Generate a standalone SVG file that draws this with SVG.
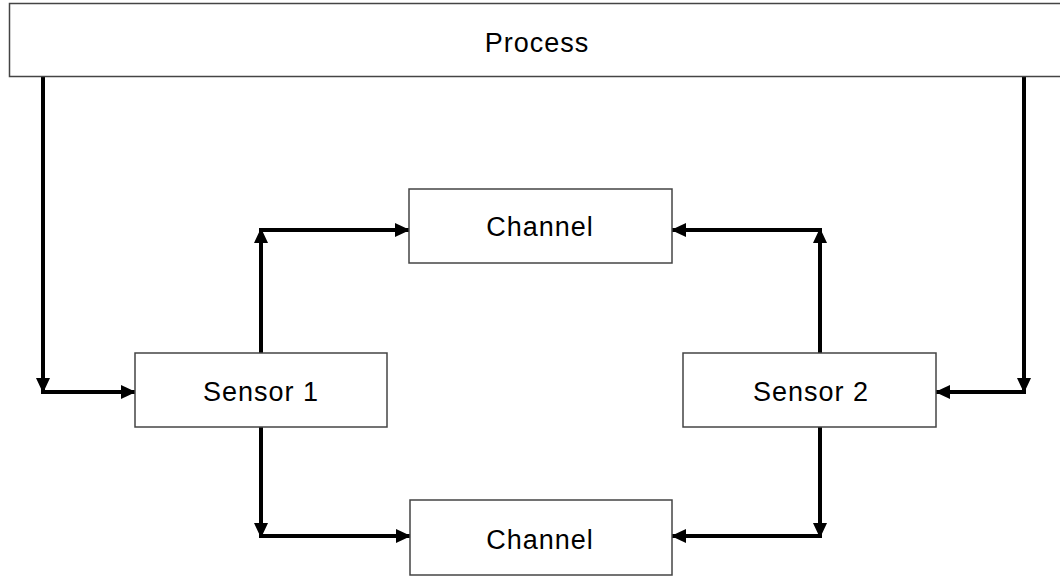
<svg xmlns="http://www.w3.org/2000/svg" width="1060" height="577" viewBox="0 0 1060 577">
<style>
.box{fill:#fff;stroke:#444;stroke-width:1.5}
.lbl{font-family:"Liberation Sans",Arial,sans-serif;font-size:27px;letter-spacing:1px;fill:#000;text-anchor:middle}
.c{stroke:#000;stroke-width:4;fill:none}
</style>
<defs>
<marker id="ah" markerUnits="userSpaceOnUse" markerWidth="16" markerHeight="16" refX="14" refY="8" orient="auto">
<path d="M0,1 L15,8 L0,15 z" fill="#000"/>
</marker>
</defs>
<rect width="1060" height="577" fill="#fff"/>
<g id="connectors">
<line class="c" x1="43" y1="77" x2="43" y2="392" marker-end="url(#ah)"/>
<line class="c" x1="41" y1="392" x2="135" y2="392" marker-end="url(#ah)"/>
<line class="c" x1="1024" y1="77" x2="1024" y2="392" marker-end="url(#ah)"/>
<line class="c" x1="1026" y1="392" x2="936" y2="392" marker-end="url(#ah)"/>
<line class="c" x1="261" y1="353" x2="261" y2="229" marker-end="url(#ah)"/>
<line class="c" x1="259" y1="230" x2="409" y2="230" marker-end="url(#ah)"/>
<line class="c" x1="820" y1="353" x2="820" y2="229" marker-end="url(#ah)"/>
<line class="c" x1="822" y1="230" x2="672" y2="230" marker-end="url(#ah)"/>
<line class="c" x1="261" y1="427" x2="261" y2="537" marker-end="url(#ah)"/>
<line class="c" x1="259" y1="536" x2="410" y2="536" marker-end="url(#ah)"/>
<line class="c" x1="820" y1="427" x2="820" y2="537" marker-end="url(#ah)"/>
<line class="c" x1="822" y1="536" x2="672" y2="536" marker-end="url(#ah)"/>
</g>
<g id="process">
<rect class="box" x="9.5" y="3.5" width="1060" height="73"/>
<text class="lbl" x="537" y="52">Process</text>
</g>
<g id="channel-top">
<rect class="box" x="409" y="189" width="263" height="74"/>
<text class="lbl" x="540" y="236">Channel</text>
</g>
<g id="sensor1">
<rect class="box" x="135" y="353" width="252" height="74"/>
<text class="lbl" x="261" y="401">Sensor 1</text>
</g>
<g id="sensor2">
<rect class="box" x="683" y="353" width="253" height="74"/>
<text class="lbl" x="811" y="401">Sensor 2</text>
</g>
<g id="channel-bottom">
<rect class="box" x="410" y="500" width="262" height="75"/>
<text class="lbl" x="540" y="549">Channel</text>
</g>
</svg>
